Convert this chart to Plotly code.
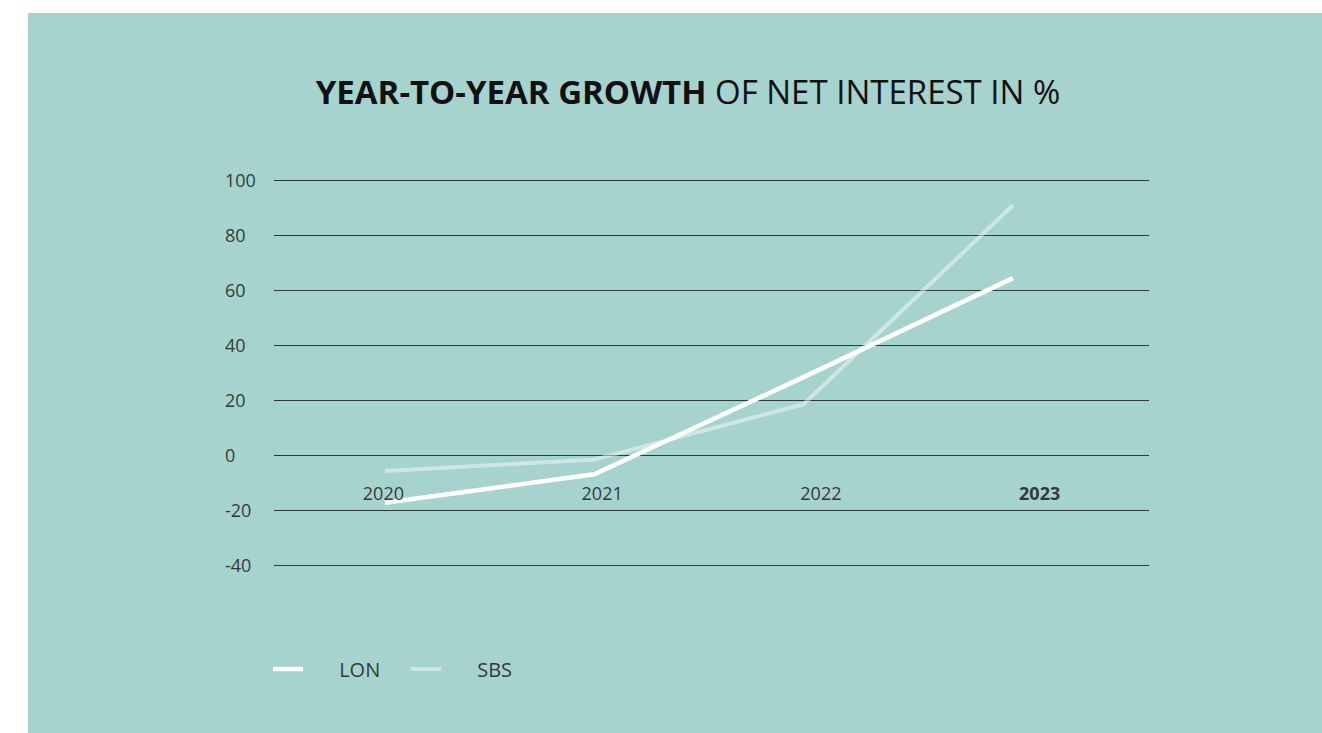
import plotly.graph_objects as go

# Year-to-year growth of net interest (%)
years = ["2020", "2021", "2022", "2023"]
lon_growth = [-17.2, -6.8, 28.5, 64.5]
sbs_growth = [-5.6, -1.5, 18.7, 91.0]
y_ticks = [-40, -20, 0, 20, 40, 60, 80, 100]
year_idx = list(range(len(years)))

W, H = 1322, 733
ML, MR, MT, MB = 200, 173, 175, 162
plot_w = W - ML - MR
plot_h = H - MT - MB
grid_left = 274  # gridlines start here (px)

def px_to_paper_x(px):
    return (px - ML) / plot_w

def px_to_paper_y(py):
    return (H - MB - py) / plot_h

BG = "#a7d3ce"
GRID = "#2c3b3a"
TXT = "#333b3a"
FONT = "Open Sans"
PAD = "\u00a0" * 6  # gap between legend swatch and its label

fig = go.Figure()

fig.add_trace(go.Scatter(
    x=year_idx, y=lon_growth, name=PAD + "LON", mode="lines",
    line=dict(color="#ffffff", width=4.5),
    xaxis="x", yaxis="y", hoverinfo="skip",
))
fig.add_trace(go.Scatter(
    x=year_idx, y=sbs_growth, name=PAD + "SBS", mode="lines",
    line=dict(color="rgba(255,255,255,0.45)", width=4),
    xaxis="x", yaxis="y2", hoverinfo="skip",
))
# empty trace so the year-label axis gets drawn
fig.add_trace(go.Scatter(
    x=year_idx, y=[None] * len(years), mode="lines", showlegend=False,
    xaxis="x2", yaxis="y", hoverinfo="skip",
))

fig.update_layout(
    width=W, height=H,
    margin=dict(l=ML, r=MR, t=MT, b=MB, pad=0),
    paper_bgcolor="#ffffff",
    plot_bgcolor="rgba(0,0,0,0)",
    font=dict(family=FONT, color=TXT, size=18),
    showlegend=True,
    legend=dict(
        orientation="h", x=px_to_paper_x(268), xanchor="left",
        y=px_to_paper_y(669), yanchor="middle",
        font=dict(family=FONT, size=20, color=TXT),
        bgcolor="rgba(0,0,0,0)", entrywidth=93, entrywidthmode="pixels",
        tracegroupgap=0,
    ),
    title=dict(
        text="<b>YEAR-TO-YEAR GROWTH</b> OF NET INTEREST IN %",
        x=688 / W, xanchor="center", y=1 - 92 / H, yanchor="middle",
        font=dict(family=FONT, size=33, color="#111111"),
    ),
    # line axis
    xaxis=dict(
        domain=[px_to_paper_x(grid_left), 1],
        range=[-0.530, 3.650], showgrid=False, zeroline=False,
        showticklabels=False, showline=False, fixedrange=True,
    ),
    # year labels, sitting between the 0 and -20 gridlines
    xaxis2=dict(
        overlaying="x", anchor="free", position=px_to_paper_y(481),
        domain=[px_to_paper_x(grid_left), 1],
        range=[-0.5, 3.5], tickmode="array", tickvals=year_idx,
        ticktext=years[:-1] + ["<b>" + years[-1] + "</b>"],
        showgrid=False, zeroline=False, showline=False, ticks="",
        tickfont=dict(family=FONT, size=18, color=TXT),
    ),
    yaxis=dict(
        range=[-42, 102], tickmode="array", tickvals=y_ticks,
        showgrid=True, gridcolor=GRID, gridwidth=1,
        zeroline=False, showticklabels=False, showline=False,
    ),
    # left-aligned value labels
    yaxis2=dict(
        overlaying="y", matches="y", anchor="free", side="right",
        position=px_to_paper_x(224),
        tickmode="array", tickvals=y_ticks,
        ticktext=[str(v) for v in y_ticks],
        showgrid=False, zeroline=False, showline=False, ticks="",
        tickfont=dict(family=FONT, size=18, color=TXT),
    ),
    shapes=[dict(
        type="rect", xref="paper", yref="paper", layer="below",
        x0=px_to_paper_x(28), x1=px_to_paper_x(W),
        y0=px_to_paper_y(13), y1=px_to_paper_y(H),
        fillcolor=BG, line=dict(width=0),
    )],
)

fig.write_html("out.html")
